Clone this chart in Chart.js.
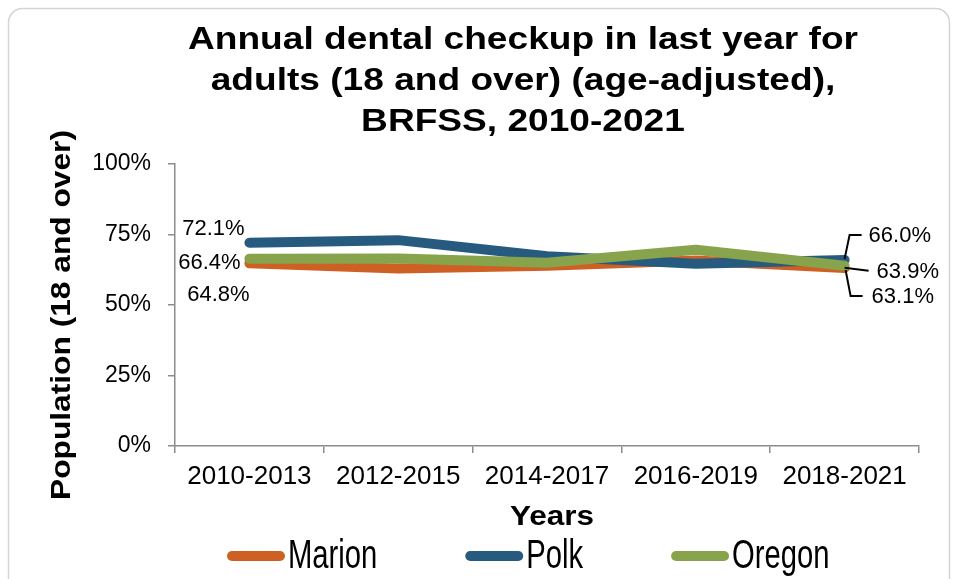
<!DOCTYPE html>
<html>
<head>
<meta charset="utf-8">
<script src="https://cdn.jsdelivr.net/npm/chart.js@4.4.1/dist/chart.umd.min.js"></script>
<style>
    html, body { margin: 0; padding: 0; background: #fff; }
    #wrap { width: 956px; height: 579px; position: relative; }
</style>
</head>
<body>
<div id="wrap"><canvas id="dentalChart" width="956" height="579"></canvas></div>
<script>
// Data
const years = ['2010-2013', '2012-2015', '2014-2017', '2016-2019', '2018-2021'];
const marion = [64.8, 62.9, 63.9, 65.8, 63.1];
const polk = [72.1, 73.0, 67.3, 64.6, 66.0];
const oregon = [66.4, 66.5, 65.0, 69.6, 63.9];
const yTicks = [0, 25, 50, 75, 100];
const titleLines = ['Annual dental checkup in last year for', 'adults (18 and over) (age-adjusted),', 'BRFSS, 2010-2021'];

const COLORS = { marion: '#CF6024', polk: '#265B7F', oregon: '#87A34B' };
const ARIAL = '"Liberation Sans", Arial, sans-serif';

// value labels: dataset, point, offset from the point, optional leader line
const valueLabels = [
    { ds: 1, i: 0, dx: -36, dy: -14, align: 'center' },
    { ds: 2, i: 0, dx: -40, dy: 4, align: 'center' },
    { ds: 0, i: 0, dx: -31, dy: 32, align: 'center' },
    { ds: 1, i: 4, dx: 24, dy: -24, align: 'left', leader: [[0, -1], [5, -25], [17, -25]] },
    { ds: 2, i: 4, dx: 32, dy: 6, align: 'left', leader: [[0, 2], [24, 5]] },
    { ds: 0, i: 4, dx: 27, dy: 29, align: 'left', leader: [[1, 2], [6, 28], [18, 28]] }
];

/**
 * Draw text squeezed or stretched to a given width
 */
function fitText(ctx, text, x, y, width) {
    const sx = width / ctx.measureText(text).width;
    ctx.save();
    ctx.translate(x, y);
    ctx.scale(sx, 1);
    ctx.fillText(text, 0, 0);
    ctx.restore();
    return width;
}

/**
 * Frame, title, axis titles, value labels and legend
 */
const decorPlugin = {
    id: 'decor',
    beforeDraw(chart) {
        const ctx = chart.ctx;
        ctx.save();
        ctx.strokeStyle = '#d4d4d4';
        ctx.lineWidth = 1.5;
        ctx.beginPath();
        ctx.roundRect(8.5, 8.5, 941, 590, 14);
        ctx.stroke();
        ctx.restore();
    },
    afterDraw(chart) {
        const ctx = chart.ctx;
        ctx.save();
        ctx.fillStyle = '#000';

        // title, same stretch on every line
        ctx.font = 'bold 31px ' + ARIAL;
        ctx.textAlign = 'center';
        ctx.textBaseline = 'middle';
        const titleScale = 670 / ctx.measureText(titleLines[0]).width;
        titleLines.forEach((line, k) => {
            fitText(ctx, line, 523, 40 + k * 41, ctx.measureText(line).width * titleScale);
        });

        // axis titles
        ctx.font = 'bold 28px ' + ARIAL;
        fitText(ctx, 'Years', 552, 517, 84);
        ctx.save();
        ctx.translate(62, 315);
        ctx.rotate(-Math.PI / 2);
        fitText(ctx, 'Population (18 and over)', 0, 0, 370);
        ctx.restore();

        // value labels
        ctx.font = '22px ' + ARIAL;
        ctx.strokeStyle = '#000';
        ctx.lineWidth = 2;
        valueLabels.forEach(l => {
            const pt = chart.getDatasetMeta(l.ds).data[l.i];
            const value = chart.data.datasets[l.ds].data[l.i];
            if (l.leader) {
                ctx.beginPath();
                l.leader.forEach((p, k) => {
                    const x = pt.x + p[0], y = pt.y + p[1];
                    if (k === 0) ctx.moveTo(x, y); else ctx.lineTo(x, y);
                });
                ctx.stroke();
            }
            ctx.textAlign = l.align;
            ctx.fillText(value.toFixed(1) + '%', pt.x + l.dx, pt.y + l.dy);
        });

        // legend: tall, narrow text as in the reference
        ctx.font = '40px ' + ARIAL;
        ctx.textAlign = 'left';
        const legendY = 556;
        let x = 227;
        chart.data.datasets.forEach(ds => {
            ctx.strokeStyle = ds.borderColor;
            ctx.lineWidth = 10;
            ctx.lineCap = 'round';
            ctx.beginPath();
            ctx.moveTo(x + 5, legendY);
            ctx.lineTo(x + 53, legendY);
            ctx.stroke();
            const w = ctx.measureText(ds.label).width * 0.73;
            fitText(ctx, ds.label, x + 61, legendY + 1, w);
            x += 61 + w + 88;
        });
        ctx.restore();
    }
};

const lineStyle = {
    borderWidth: 10,
    borderCapStyle: 'round',
    borderJoinStyle: 'round',
    pointRadius: 0,
    pointHoverRadius: 0,
    tension: 0,
    fill: false
};

const ctx = document.getElementById('dentalChart').getContext('2d');
new Chart(ctx, {
    type: 'line',
    data: {
        labels: years,
        datasets: [
            { label: 'Marion', data: marion, borderColor: COLORS.marion, backgroundColor: COLORS.marion, order: 2, ...lineStyle },
            { label: 'Polk', data: polk, borderColor: COLORS.polk, backgroundColor: COLORS.polk, order: 1, ...lineStyle },
            { label: 'Oregon', data: oregon, borderColor: COLORS.oregon, backgroundColor: COLORS.oregon, order: 0, ...lineStyle }
        ]
    },
    options: {
        responsive: false,
        animation: false,
        events: [],
        layout: { padding: { top: 164, right: 37, bottom: 0, left: 0 } },
        plugins: {
            legend: { display: false },
            title: { display: false },
            tooltip: { enabled: false }
        },
        scales: {
            x: {
                type: 'category',
                offset: true,
                afterFit: s => { s.height = 133; },
                grid: { offset: true, drawOnChartArea: false, drawTicks: true, tickLength: 7, color: '#8c8c8c', lineWidth: 1.5 },
                border: { color: '#8c8c8c', width: 1.5 },
                ticks: { color: '#000', font: { family: ARIAL, size: 26 }, padding: 8, maxRotation: 0, autoSkip: false }
            },
            y: {
                min: 0,
                max: 100,
                afterFit: s => { s.width = 175; },
                afterBuildTicks: s => { s.ticks = yTicks.map(v => ({ value: v })); },
                grid: { drawOnChartArea: false, drawTicks: true, tickLength: 7, color: '#8c8c8c', lineWidth: 1.5 },
                border: { color: '#8c8c8c', width: 1.5 },
                ticks: { color: '#000', font: { family: ARIAL, size: 23 }, padding: 17, callback: v => v + '%' }
            }
        }
    },
    plugins: [decorPlugin]
});
</script>
</body>
</html>
